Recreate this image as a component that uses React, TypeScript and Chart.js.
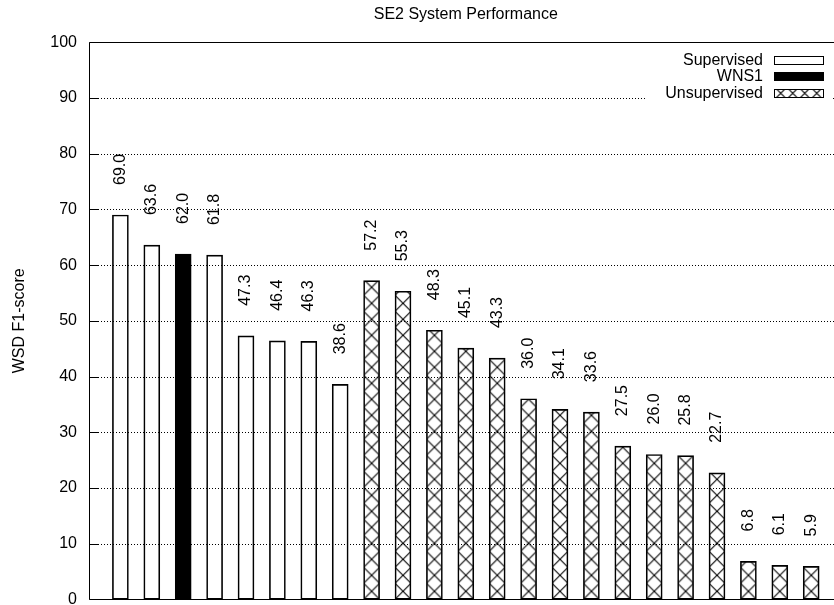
import React, { useEffect, useRef } from "react";
import { Chart, registerables } from "chart.js";

Chart.register(...registerables);

// ---- data ----
const TITLE = "SE2 System Performance";
const Y_LABEL = "WSD F1-score";
const Y_MIN = 0;
const Y_MAX = 100;
const Y_STEP = 10;

const GROUP_NAMES = ["Supervised", "WNS1", "Unsupervised"];

// one entry per system, in plotted order
const systemGroups = [
  "Supervised", "Supervised", "WNS1", "Supervised", "Supervised", "Supervised", "Supervised", "Supervised",
  "Unsupervised", "Unsupervised", "Unsupervised", "Unsupervised", "Unsupervised", "Unsupervised",
  "Unsupervised", "Unsupervised", "Unsupervised", "Unsupervised", "Unsupervised", "Unsupervised",
  "Unsupervised", "Unsupervised", "Unsupervised",
];
const systemScores = [
  69.0, 63.6, 62.0, 61.8, 47.3, 46.4, 46.3, 38.6,
  57.2, 55.3, 48.3, 45.1, 43.3, 36.0, 34.1, 33.6, 27.5, 26.0, 25.8, 22.7, 6.8, 6.1, 5.9,
];

// ---- styling ----
const FAMILY = '"Liberation Sans", Arial, Helvetica, sans-serif';
const FONT_SIZE = 16;
const FONT = `${FONT_SIZE}px ${FAMILY}`;
const CANVAS_W = 860;
const CANVAS_H = 625;
const BAR_PX = 16;

// crosshatch tile: two diagonals, so tiles join into a diamond lattice
function makeCrosshatch(s: number): CanvasPattern | null {
  const tile = document.createElement("canvas");
  tile.width = s;
  tile.height = s;
  const c = tile.getContext("2d");
  if (!c) return null;
  c.strokeStyle = "#000";
  c.lineWidth = 1.1;
  c.beginPath();
  c.moveTo(-1, -1);
  c.lineTo(s + 1, s + 1);
  c.moveTo(s + 1, -1);
  c.lineTo(-1, s + 1);
  c.stroke();
  return c.createPattern(tile, "repeat");
}

const legendFills: Record<string, any> = {};

const framePlugin = {
  id: "gnuplotFrame",
  beforeDatasetsDraw(chart: any) {
    const { ctx, chartArea: ca, scales } = chart;
    const y = scales.y;
    ctx.save();
    // dotted grid
    ctx.strokeStyle = "#000";
    ctx.lineWidth = 1;
    ctx.setLineDash([1, 2]);
    for (let v = Y_MIN + Y_STEP; v < Y_MAX; v += Y_STEP) {
      const py = Math.round(y.getPixelForValue(v)) + 0.5;
      ctx.beginPath();
      ctx.moveTo(ca.left, py);
      ctx.lineTo(ca.right, py);
      ctx.stroke();
    }
    ctx.restore();
  },
  afterDatasetsDraw(chart: any) {
    const { ctx, chartArea: ca, scales } = chart;
    const y = scales.y;
    const left = Math.floor(ca.left) + 0.5;
    const right = Math.floor(ca.right) + 0.5;
    const top = Math.floor(ca.top) + 0.5;
    const bottom = Math.floor(ca.bottom) + 0.5;

    ctx.save();
    ctx.strokeStyle = "#000";
    ctx.lineWidth = 1;
    ctx.setLineDash([]);
    // inward tick marks
    ctx.beginPath();
    for (let v = Y_MIN; v <= Y_MAX; v += Y_STEP) {
      const py = Math.round(y.getPixelForValue(v)) + 0.5;
      ctx.moveTo(left, py);
      ctx.lineTo(left + 9, py);
      ctx.moveTo(right, py);
      ctx.lineTo(right - 9, py);
    }
    ctx.stroke();
    // border
    ctx.beginPath();
    ctx.rect(left, top, right - left, bottom - top);
    ctx.stroke();

    // rotated value labels above each bar
    ctx.fillStyle = "#000";
    ctx.font = FONT;
    ctx.textAlign = "left";
    ctx.textBaseline = "middle";
    chart.data.datasets.forEach((ds: any, di: number) => {
      const meta = chart.getDatasetMeta(di);
      meta.data.forEach((bar: any, i: number) => {
        const val = ds.data[i].y;
        const py = y.getPixelForValue(val) - 30;
        ctx.save();
        ctx.translate(bar.x, py);
        ctx.rotate(-Math.PI / 2);
        ctx.fillText(val.toFixed(1), 0, 0);
        ctx.restore();
      });
    });

    // key (top right, opaque)
    const keyRight = 763;
    const sampleX = 774;
    const sampleW = 49;
    const sampleH = 8;
    const rowY = [59.5, 76, 92.5];
    ctx.fillStyle = "#fff";
    ctx.fillRect(646, 47, 186, 54);
    ctx.font = FONT;
    ctx.textAlign = "right";
    ctx.textBaseline = "middle";
    chart.data.datasets.forEach((ds: any, di: number) => {
      const ry = rowY[di];
      ctx.fillStyle = "#000";
      ctx.fillText(ds.label, keyRight, ry + 1);
      const sy = Math.round(ry - sampleH / 2) + 0.5;
      const fill = legendFills[ds.label];
      if (fill && fill.setTransform) {
        fill.setTransform(new DOMMatrix([1, 0, 0, 1, sampleX + 0.5, sy - 2.5]));
      }
      ctx.fillStyle = fill || "rgba(0,0,0,0)";
      ctx.fillRect(sampleX + 0.5, sy, sampleW, sampleH);
      ctx.strokeStyle = "#000";
      ctx.strokeRect(sampleX + 0.5, sy, sampleW, sampleH);
    });
    ctx.restore();
  },
};

export default function App() {
  const canvasRef = useRef<HTMLCanvasElement | null>(null);

  useEffect(() => {
    const canvas = canvasRef.current;
    if (!canvas) return;

    legendFills.Supervised = "rgba(0,0,0,0)";
    legendFills.WNS1 = "#000";
    legendFills.Unsupervised = makeCrosshatch(12.5 as any) || "#fff";

    // hatch anchored to each bar so the diamonds span the bar width
    const hatchFor = (c: any) => {
      if (c.type !== "data" || !c.chart.scales || !c.chart.scales.x) return "rgba(0,0,0,0)";
      const xs = c.chart.scales.x;
      const ys = c.chart.scales.y;
      const cx = xs.getPixelForValue(c.raw.x);
      const base = ys.getPixelForValue(0);
      const pat = makeCrosshatch(BAR_PX);
      if (!pat) return "#fff";
      pat.setTransform(new DOMMatrix([1, 0, 0, 1, cx - BAR_PX / 2, base]));
      return pat;
    };

    const fills: Record<string, any> = {
      Supervised: "rgba(0,0,0,0)",
      WNS1: "#000",
      Unsupervised: hatchFor,
    };

    const datasets = GROUP_NAMES.map((name) => ({
      label: name,
      data: systemScores
        .map((v, i) => ({ x: i + 1, y: v, g: systemGroups[i] }))
        .filter((p) => p.g === name)
        .map((p) => ({ x: p.x, y: p.y })),
      backgroundColor: fills[name],
      borderColor: "#000",
      borderWidth: 1,
      borderSkipped: false as const,
      barThickness: BAR_PX,
      grouped: false,
    }));

    const chart = new Chart(canvas, {
      type: "bar",
      data: { datasets },
      plugins: [framePlugin],
      options: {
        animation: false,
        responsive: false,
        devicePixelRatio: 1,
        layout: { padding: { left: 0, right: 17.4, bottom: 25.7, top: 0 } },
        plugins: {
          legend: { display: false },
          tooltip: { enabled: false },
          title: {
            display: true,
            text: TITLE,
            fullSize: false,
            color: "#000",
            font: { family: FAMILY, size: FONT_SIZE, weight: "normal" },
            padding: { top: 4.5, bottom: 18.6 },
          },
        },
        scales: {
          x: {
            type: "linear",
            min: 0,
            max: systemScores.length + 1,
            offset: false,
            bounds: "ticks",
            display: false,
          },
          y: {
            type: "linear",
            min: Y_MIN,
            max: Y_MAX,
            afterFit(scale: any) {
              scale.width = 89;
            },
            ticks: {
              stepSize: Y_STEP,
              color: "#000",
              font: { family: FAMILY, size: FONT_SIZE },
              padding: 12,
            },
            grid: { display: false, drawTicks: false },
            border: { display: false },
            title: {
              display: true,
              text: Y_LABEL,
              color: "#000",
              font: { family: FAMILY, size: FONT_SIZE },
              padding: { top: 9.5, bottom: 0 },
            },
          },
        },
      } as any,
    });
    return () => chart.destroy();
  }, []);

  return (
    <div
      style={{
        position: "fixed",
        left: 0,
        top: 0,
        width: 834,
        height: 605,
        overflow: "hidden",
        background: "#fff",
      }}
    >
      <canvas
        ref={canvasRef}
        width={CANVAS_W}
        height={CANVAS_H}
        style={{ display: "block", width: CANVAS_W, height: CANVAS_H }}
      />
    </div>
  );
}
